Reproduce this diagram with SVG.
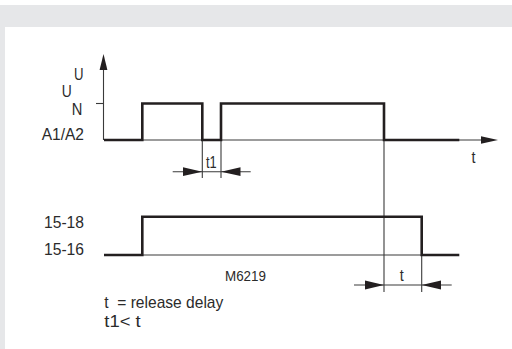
<svg xmlns="http://www.w3.org/2000/svg" width="512" height="349" viewBox="0 0 512 349">
<style>
.bg{fill:#e6e7e9}
.thin{stroke:#3a3a3a;stroke-width:1.1;fill:none}
.thick{stroke:#231f20;stroke-width:2.6;fill:none;stroke-linejoin:miter}
.ah{fill:#231f20}
text{font-family:"Liberation Sans",Arial,sans-serif;fill:#2b2b2b;font-size:17px;white-space:pre}
.sm{font-size:14.5px}
</style>
<rect x="0" y="0" width="512" height="349" fill="#ffffff"/>
<rect class="bg" x="0" y="5" width="512" height="22"/>
<rect class="bg" x="0" y="5" width="5" height="344"/>
<g id="connectors">
<line class="thin" x1="103.5" y1="66" x2="103.5" y2="140"/>
<polygon class="ah" points="103.5,54 99.6,70 107.4,70"/>
<line class="thin" x1="96" y1="103.5" x2="103.5" y2="103.5"/>
<line class="thin" x1="104" y1="140" x2="484" y2="140"/>
<polygon class="ah" points="498,140 481,136.3 481,143.7"/>
<line class="thin" x1="104" y1="255" x2="459" y2="255"/>
<line class="thin" x1="202.3" y1="140" x2="202.3" y2="178"/>
<line class="thin" x1="221" y1="140" x2="221" y2="178"/>
<line class="thin" x1="172.7" y1="171.7" x2="250.7" y2="171.7"/>
<polygon class="ah" points="202.3,171.7 183,167.3 183,176.1"/>
<polygon class="ah" points="221,171.7 240.5,167.3 240.5,176.1"/>
<line class="thin" x1="384" y1="140" x2="384" y2="292"/>
<line class="thin" x1="421.7" y1="255" x2="421.7" y2="292"/>
<line class="thin" x1="354" y1="285" x2="451.7" y2="285"/>
<polygon class="ah" points="384,285 365,280.6 365,289.4"/>
<polygon class="ah" points="421.7,285 441,280.6 441,289.4"/>
<path class="thick" d="M104,140 H142.3 V103.5 H202.3 V140 H221 V103.5 H384 V140 H459.3"/>
<path class="thick" d="M104,255 H142.3 V216.7 H421.7 V255 H459.3"/>
</g>
<g id="label-U"><text x="74" y="80" textLength="9.5" lengthAdjust="spacingAndGlyphs">U</text></g>
<g id="label-UN"><text x="61.7" y="97" textLength="10" lengthAdjust="spacingAndGlyphs">U</text><text x="71.7" y="115" textLength="10.6" lengthAdjust="spacingAndGlyphs">N</text></g>
<g id="label-A1A2"><text x="41.7" y="140" textLength="42.3" lengthAdjust="spacingAndGlyphs">A1/A2</text></g>
<g id="label-t-axis"><text x="471.5" y="163.3" textLength="4" lengthAdjust="spacingAndGlyphs">t</text></g>
<g id="label-t1"><text x="206" y="168.3" textLength="10.7" lengthAdjust="spacingAndGlyphs">t1</text></g>
<g id="label-1518"><text x="44" y="228.3" textLength="40" lengthAdjust="spacingAndGlyphs">15-18</text></g>
<g id="label-1516"><text x="44" y="255" textLength="40" lengthAdjust="spacingAndGlyphs">15-16</text></g>
<g id="label-t"><text x="399.8" y="280.7" textLength="4" lengthAdjust="spacingAndGlyphs">t</text></g>
<g id="label-M6219"><text class="sm" x="225" y="280.7" textLength="41" lengthAdjust="spacingAndGlyphs">M6219</text></g>
<g id="legend">
<text x="104.3" y="308.3" textLength="119" lengthAdjust="spacingAndGlyphs">t  = release delay</text>
<text x="104.3" y="326.7" textLength="36.4" lengthAdjust="spacingAndGlyphs">t1&lt; t</text>
</g>
</svg>
